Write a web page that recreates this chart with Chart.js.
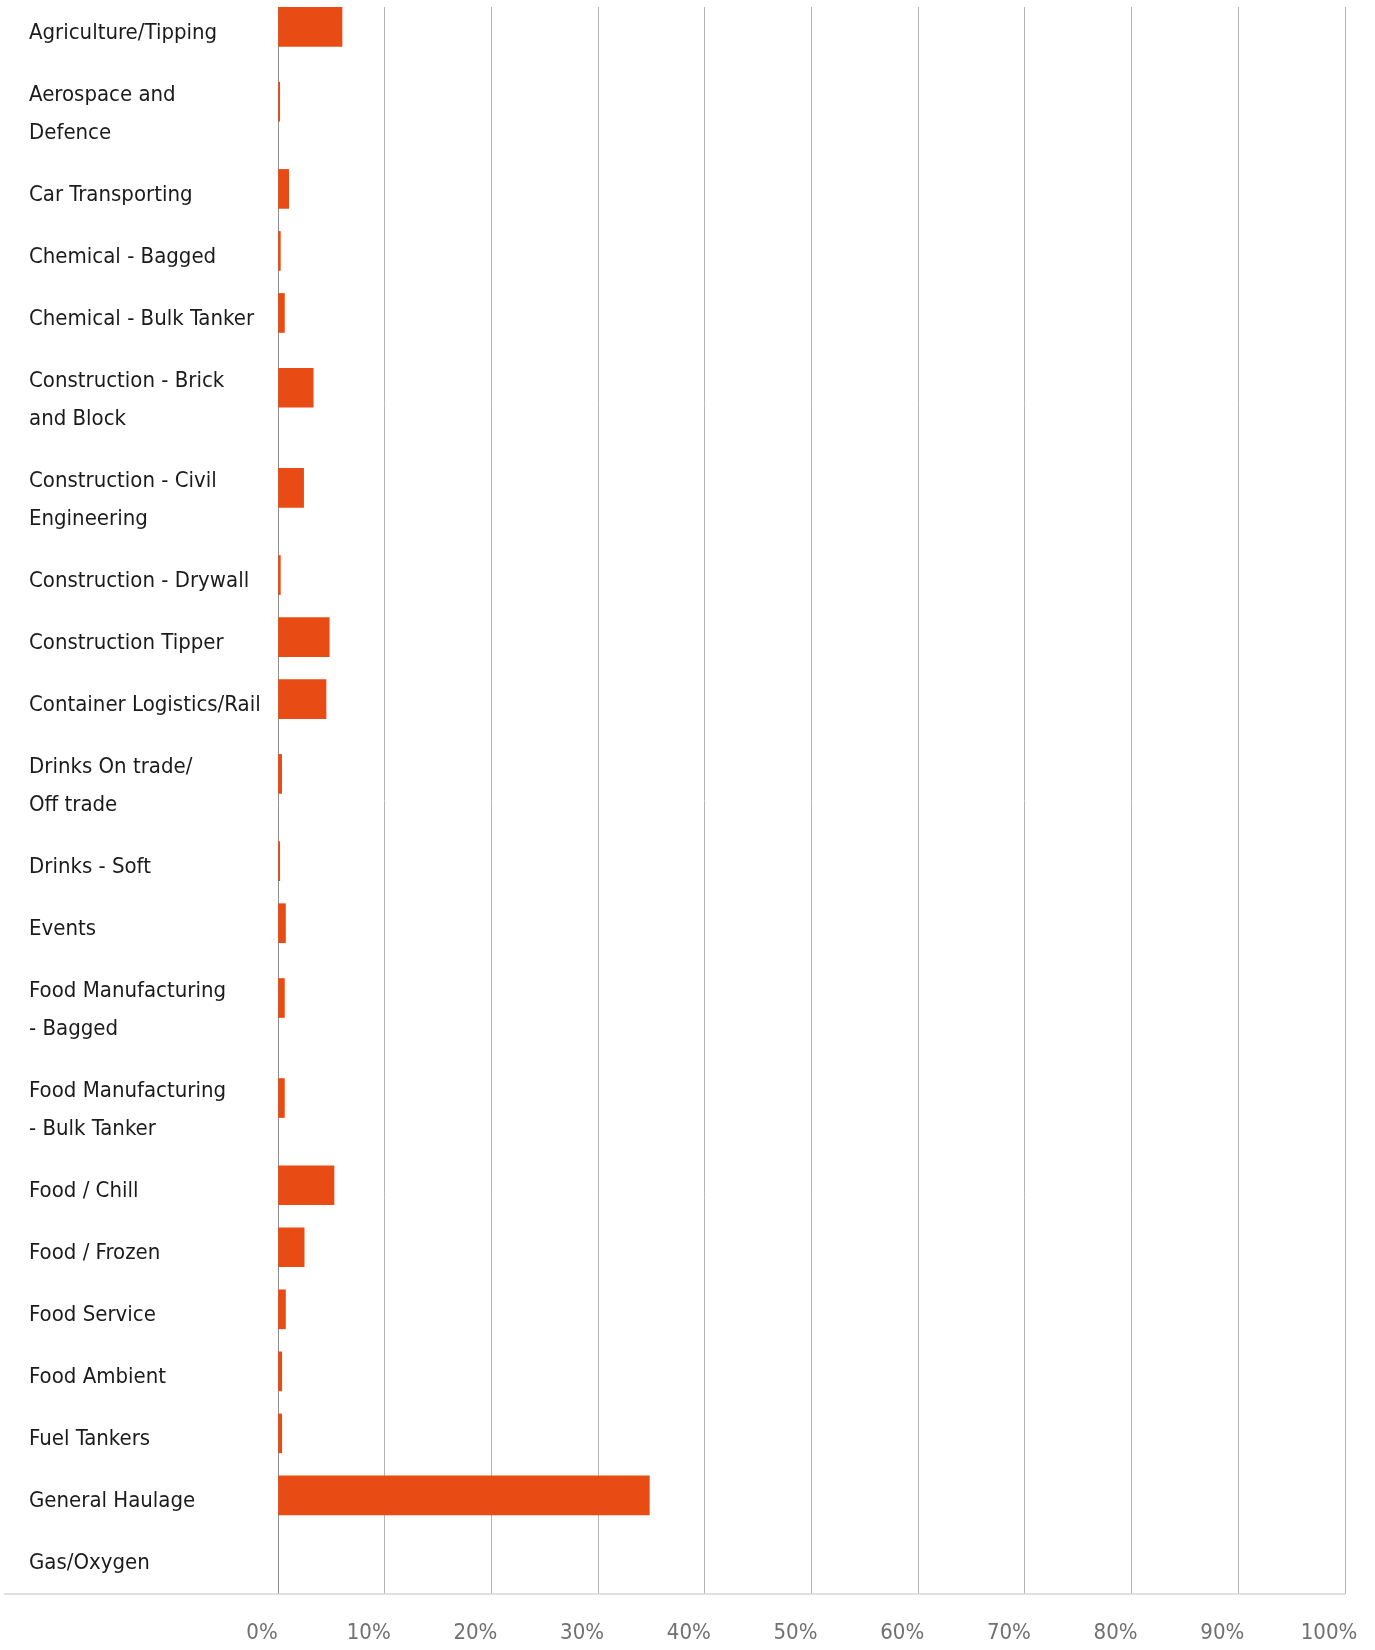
<!DOCTYPE html>
<html>
<head>
<meta charset="utf-8">
<script src="https://cdn.jsdelivr.net/npm/chart.js@4.4.1/dist/chart.umd.min.js"></script>
<style>
  html, body { margin: 0; padding: 0; background: #ffffff; }
  #wrap { width: 1375px; height: 1650px; }
</style>
</head>
<body>
<div id="wrap"><canvas id="sectorChart"></canvas></div>
<script>
  // sector names (arrays = label wraps onto two lines)
  const sectors = [
    'Agriculture/Tipping',
    ['Aerospace and', 'Defence'],
    'Car Transporting',
    'Chemical - Bagged',
    'Chemical - Bulk Tanker',
    ['Construction - Brick', 'and Block'],
    ['Construction - Civil', 'Engineering'],
    'Construction - Drywall',
    'Construction Tipper',
    'Container Logistics/Rail',
    ['Drinks On trade/', 'Off trade'],
    'Drinks - Soft',
    'Events',
    ['Food Manufacturing', '- Bagged'],
    ['Food Manufacturing', '- Bulk Tanker'],
    'Food / Chill',
    'Food / Frozen',
    'Food Service',
    'Food Ambient',
    'Fuel Tankers',
    'General Haulage',
    'Gas/Oxygen'
  ];

  // share of respondents, %
  const shares = [6.0, 0.16, 1.0, 0.22, 0.6, 3.3, 2.4, 0.22, 4.8, 4.5, 0.34, 0.16,
                  0.7, 0.6, 0.6, 5.25, 2.45, 0.7, 0.35, 0.35, 34.8, 0];

  const xTicks = [0, 10, 20, 30, 40, 50, 60, 70, 80, 90, 100];

  // pick the narrowest installed face; the original uses a condensed font
  const candidates = ['Noto Sans ExtraCondensed', 'Noto Sans Condensed', 'Liberation Sans Narrow', 'DejaVu Sans Condensed'];
  const probe = document.createElement('canvas').getContext('2d');
  function textWidth(font, s) {
    probe.font = font;
    return probe.measureText(s).width;
  }
  function installed(name) {
    const s = 'Container Logistics/Rail 0123';
    return textWidth('40px monospace', s) !== textWidth('40px "' + name + '", monospace', s);
  }
  const face = candidates.find(installed) || 'DejaVu Sans Condensed';
  const labelFont = '"' + face + '", sans-serif';
  const widest = textWidth('25px ' + labelFont, 'Container Logistics/Rail');
  const labelSize = Math.min(26, Math.floor(25 * 240 / widest));

  // rows with a wrapped label are taller; in those rows the bar sits a bit high
  const rowSize = sectors.map(s => Array.isArray(s) ? 100 / 62 : 1);
  const barLift = sectors.map(s => Array.isArray(s) ? 0.1 : 0);
  const rowPos = [];
  let total = 0;
  rowSize.forEach(h => { rowPos.push(total + h / 2); total += h; });

  const baseLine = {
    id: 'baseLine',
    afterDraw(chart) {
      const { ctx, chartArea } = chart;
      ctx.save();
      ctx.strokeStyle = '#d6d6d6';
      ctx.lineWidth = 1.5;
      ctx.beginPath();
      ctx.moveTo(4, chartArea.bottom);
      ctx.lineTo(chartArea.right, chartArea.bottom);
      ctx.stroke();
      ctx.restore();
    }
  };

  const ctx = document.getElementById('sectorChart').getContext('2d');
  new Chart(ctx, {
    type: 'bar',
    data: {
      datasets: [{
        data: shares.map((v, i) => ({ x: v, y: rowPos[i] - barLift[i] })),
        // no sliver for the empty Gas/Oxygen row
        backgroundColor: c => (c.raw && c.raw.x > 0) ? '#e84b13' : 'rgba(0,0,0,0)',
        borderWidth: 0,
        barThickness: 39
      }]
    },
    plugins: [baseLine],
    options: {
      indexAxis: 'y',
      responsive: true,
      maintainAspectRatio: false,
      animation: false,
      layout: { padding: { left: 29, right: 30, top: 7, bottom: 0 } },
      plugins: {
        legend: { display: false },
        tooltip: { enabled: false }
      },
      scales: {
        y: {
          type: 'linear',
          reverse: true,
          offset: false,
          min: 0.18,
          max: total + 0.09,
          grid: { display: false },
          border: { display: false },
          afterBuildTicks: scale => {
            scale.ticks = rowPos.map(v => ({ value: v }));
          },
          afterFit: scale => {
            scale.width = 249;
            scale.paddingTop = 0;
            scale.paddingBottom = 0;
          },
          ticks: {
            autoSkip: false,
            crossAlign: 'far',
            labelOffset: 6,
            color: '#1b1b1b',
            font: { family: labelFont, size: labelSize, lineHeight: 38 / labelSize },
            callback: (value, index) => sectors[index]
          }
        },
        x: {
          type: 'linear',
          min: 0,
          max: 100,
          afterBuildTicks: scale => {
            scale.ticks = xTicks.map(v => ({ value: v }));
          },
          afterFit: scale => {
            scale.height = 56;
            scale.paddingLeft = 0;
            scale.paddingRight = 0;
          },
          grid: {
            color: c => (c.tick && c.tick.value === 0) ? '#8c8c8c' : '#b4b4b4',
            lineWidth: 1,
            drawTicks: false
          },
          border: { display: false },
          ticks: {
            padding: 26,
            labelOffset: -16,
            color: '#707070',
            font: { family: labelFont, size: labelSize, lineHeight: 1.2 },
            callback: v => v + '%'
          }
        }
      }
    }
  });
</script>
</body>
</html>
